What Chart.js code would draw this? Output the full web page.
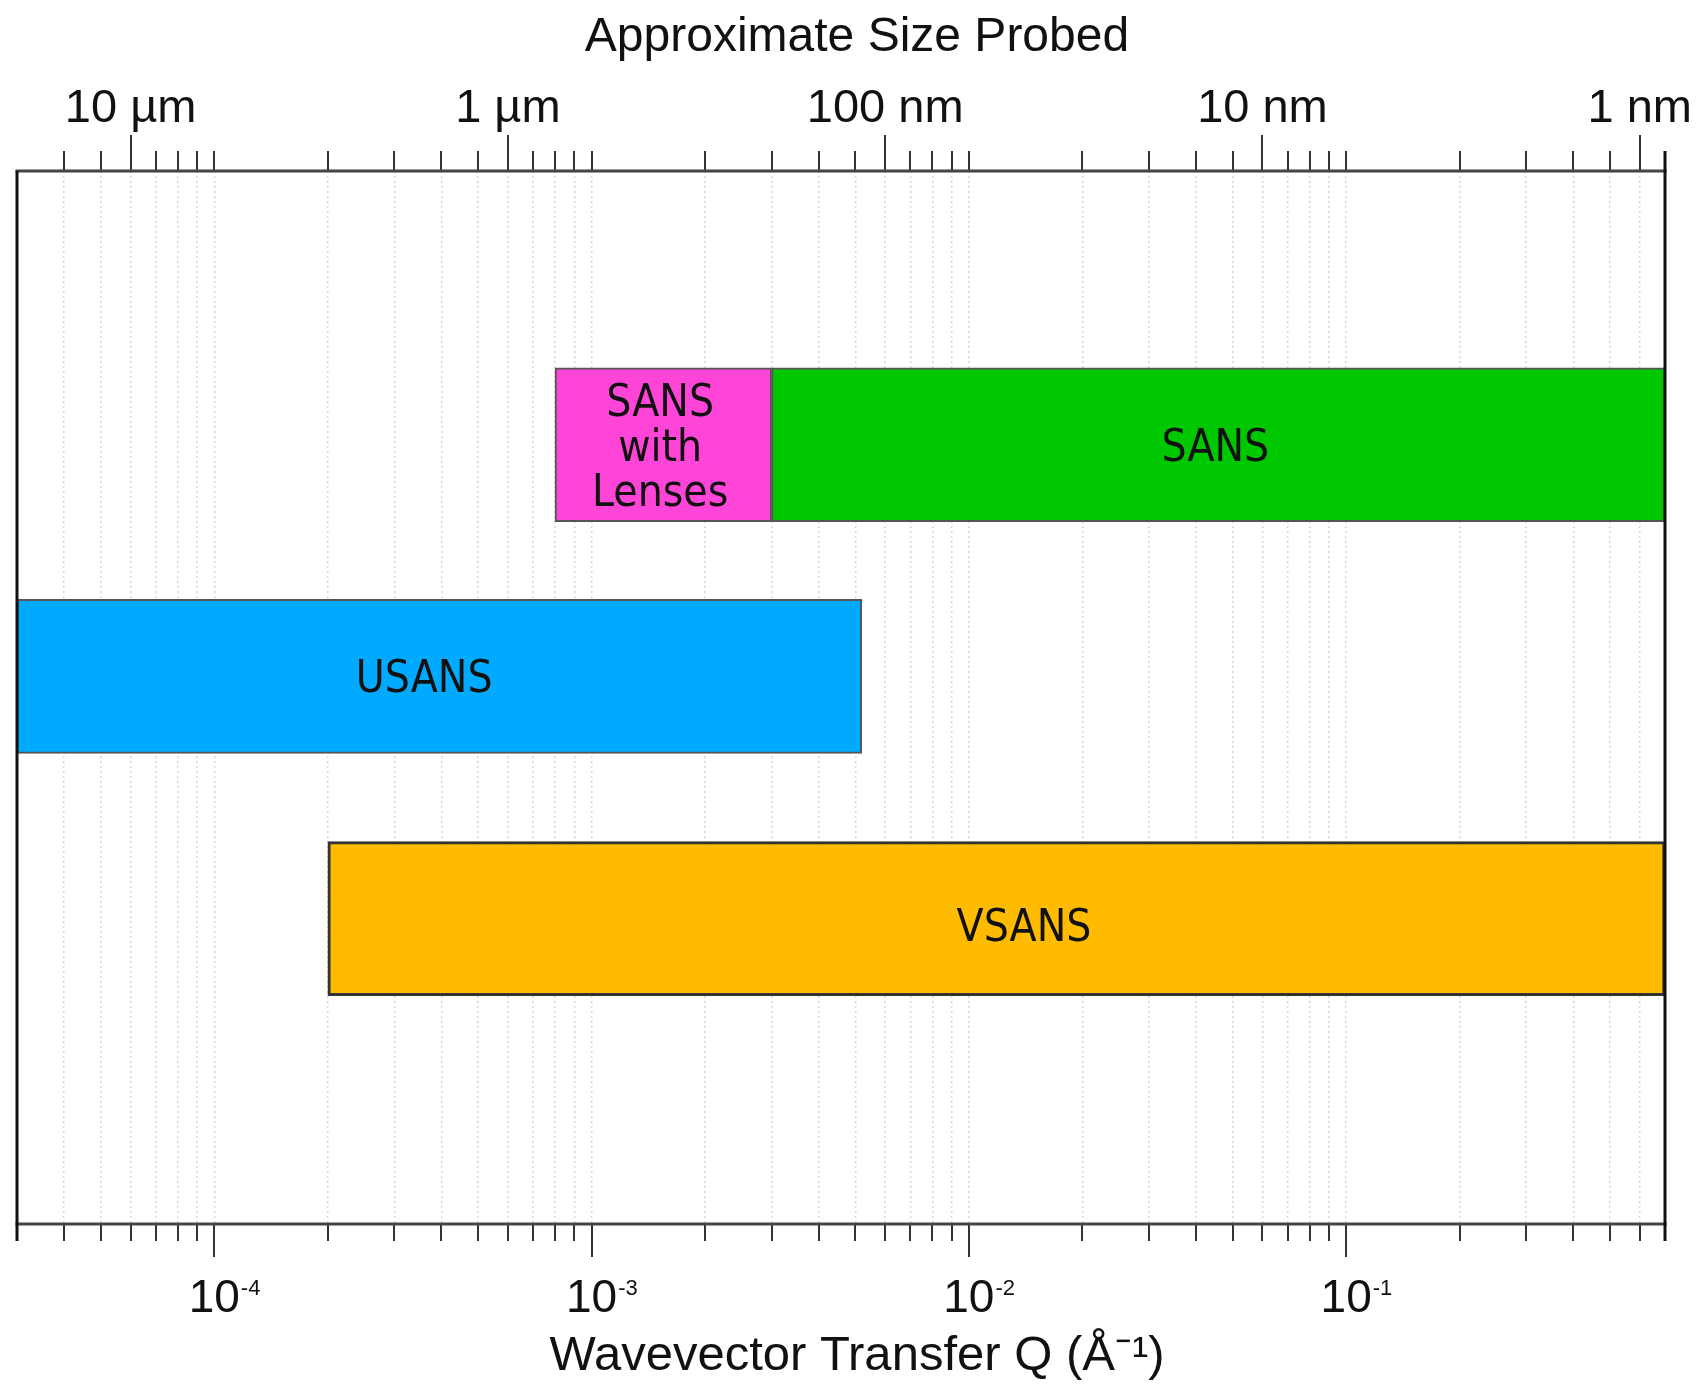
<!DOCTYPE html>
<html>
<head>
<meta charset="utf-8">
<script src="https://cdn.jsdelivr.net/npm/chart.js@4.4.1/dist/chart.umd.min.js"></script>
<style>
  html, body { margin: 0; padding: 0; background: #ffffff; }
  #wrap { width: 1706px; height: 1386px; }
</style>
</head>
<body>
<div id="wrap"><canvas id="chart" width="1706" height="1386"></canvas></div>
<script>
// Q coverage of each instrument, in inverse Ångström
const instruments = ['SANS with Lenses', 'SANS', 'USANS', 'VSANS'];
const qLow  = [8e-4, 3e-3, 3e-5, 2e-4];
const qHigh = [3e-3, 0.7, 5.2e-3, 0.7];
const rowLevel = [26, 26, 48, 71];
const barColors = ['#ff44d8', '#00c800', '#00aaff', '#ffbb00'];
const labelLines = [['SANS', 'with', 'Lenses'], ['SANS'], ['USANS'], ['VSANS']];
const labelQ = [1.52e-3, 0.045, 3.6e-4, 0.014];
const labelLevel = [26, 26, 48, 71.6];

// axis extent and labelled ticks
const qRange = [3e-5, 0.7];
const qDecades = [1e-4, 1e-3, 1e-2, 1e-1];
const qDecadeExp = ['-4', '-3', '-2', '-1'];
const sizeQ = [6e-5, 6e-4, 6e-3, 6e-2, 6e-1];
const sizeLabels = ['10 µm', '1 µm', '100 nm', '10 nm', '1 nm'];

// every 1..9 x 10^n inside the axis range
const tickQ = [];
for (let e = -5; e <= 0; e++) {
  for (let m = 1; m <= 9; m++) {
    const v = parseFloat((m * Math.pow(10, e)).toPrecision(6));
    if (v > qRange[0] * 1.001 && v < qRange[1] * 0.999) tickQ.push(v);
  }
}
const near = (a, b) => Math.abs(Math.log10(a) - Math.log10(b)) < 1e-6;
const labelFor = (vals, labels) => (v) => {
  const i = vals.findIndex(d => near(d, v));
  return i >= 0 ? labels[i] : '';
};
const useTicks = (scale) => { scale.ticks = tickQ.map(v => ({ value: v })); };
const fixHeight = (h) => (s) => { s.height = h; s.paddingLeft = 0; s.paddingRight = 0; };

const TEXT = '#111111';
const AXIS_FONT = "'Liberation Sans', Arial, Helvetica, sans-serif";
const BAR_FONT = "'DejaVu Sans Condensed', 'Liberation Sans Narrow', 'Liberation Sans', sans-serif";

// bar captions, decade labels, tick marks and the plot frame
const framePlugin = {
  id: 'frame',
  afterDatasetsDraw(chart) {
    const { ctx, chartArea: a, scales } = chart;
    const xs = scales.x, ys = scales.y;
    ctx.save();

    // captions inside the bars
    ctx.fillStyle = TEXT;
    ctx.font = '44px ' + BAR_FONT;
    ctx.textAlign = 'center';
    ctx.textBaseline = 'alphabetic';
    const lineGap = 45, capHalf = 16;
    labelLines.forEach((lines, i) => {
      const cx = xs.getPixelForValue(labelQ[i]);
      const cy = ys.getPixelForValue(labelLevel[i]);
      const y0 = cy - (lines.length - 1) * lineGap / 2;
      lines.forEach((t, k) => ctx.fillText(t, cx, y0 + k * lineGap + capHalf));
    });

    // decade labels 10^n under the bottom axis
    const baseFont = '46px ' + AXIS_FONT, supFont = '22px ' + AXIS_FONT;
    const baseY = 1312;
    ctx.textAlign = 'left';
    qDecades.forEach((q, i) => {
      const px = xs.getPixelForValue(q);
      ctx.font = baseFont;
      const wb = ctx.measureText('10').width;
      const x0 = px - wb / 2;
      ctx.fillText('10', x0, baseY);
      ctx.font = supFont;
      ctx.fillText(qDecadeExp[i], x0 + wb + 1, baseY - 17);
    });

    // tick marks: long at decades (bottom) and at size labels (top)
    ctx.strokeStyle = '#333333';
    ctx.lineWidth = 2;
    ctx.beginPath();
    tickQ.forEach(v => {
      const px = Math.round(xs.getPixelForValue(v));
      const bLen = qDecades.some(d => near(d, v)) ? 33 : 17;
      const tLen = sizeQ.some(d => near(d, v)) ? 36 : 20;
      ctx.moveTo(px, a.bottom);
      ctx.lineTo(px, a.bottom + bLen);
      ctx.moveTo(px, a.top);
      ctx.lineTo(px, a.top - tLen);
    });
    ctx.stroke();

    ctx.strokeStyle = '#444444';
    ctx.lineWidth = 3;
    ctx.beginPath();
    ctx.moveTo(a.left - 1.5, a.top);
    ctx.lineTo(a.right + 1.5, a.top);
    ctx.moveTo(a.left - 1.5, a.bottom);
    ctx.lineTo(a.right + 1.5, a.bottom);
    ctx.stroke();

    ctx.strokeStyle = '#111111';
    ctx.lineWidth = 3;
    ctx.beginPath();
    ctx.moveTo(a.left, a.top);
    ctx.lineTo(a.left, a.bottom + 17);
    ctx.moveTo(a.right, a.top - 20);
    ctx.lineTo(a.right, a.bottom + 17);
    ctx.stroke();

    ctx.restore();
  }
};

new Chart(document.getElementById('chart'), {
  type: 'bar',
  data: {
    datasets: [{
      data: instruments.map((name, i) => ({ x: [qLow[i], qHigh[i]], y: rowLevel[i] })),
      xAxisID: 'x',
      yAxisID: 'y',
      backgroundColor: barColors,
      borderColor: ['#555555', '#555555', '#555555', '#333333'],
      borderWidth: [2, 2, 2, 3],
      borderSkipped: false,
      barThickness: 154
    }]
  },
  options: {
    indexAxis: 'y',
    responsive: false,
    animation: false,
    events: [],
    layout: { padding: { left: 8, right: 0, top: 0, bottom: 0 } },
    plugins: {
      legend: { display: false },
      tooltip: { enabled: false },
      title: {
        display: true,
        text: 'Approximate Size Probed',
        color: TEXT,
        font: { family: AXIS_FONT, size: 48, weight: 'normal', lineHeight: 1.2 },
        padding: { top: 9, bottom: 0 }
      },
      subtitle: {
        display: true,
        position: 'bottom',
        text: 'Wavevector Transfer Q (Å⁻¹)',
        color: TEXT,
        font: { family: AXIS_FONT, size: 49, weight: 'normal', lineHeight: 1.2 },
        padding: { top: 0, bottom: 0 }
      }
    },
    scales: {
      x: {
        type: 'logarithmic',
        position: 'bottom',
        min: qRange[0],
        max: qRange[1],
        afterBuildTicks: useTicks,
        afterFit: fixHeight(103.2),
        ticks: { display: false, autoSkip: false },
        grid: { drawTicks: false, color: '#d4d4f2', lineWidth: 1.5 },
        border: { display: false, dash: [2, 3] }
      },
      x2: {
        type: 'logarithmic',
        position: 'top',
        min: qRange[0],
        max: qRange[1],
        afterBuildTicks: useTicks,
        afterFit: fixHeight(104.4),
        ticks: {
          autoSkip: false,
          maxRotation: 0,
          minRotation: 0,
          padding: 34,
          color: TEXT,
          font: { family: AXIS_FONT, size: 47, lineHeight: 1.2 },
          callback: labelFor(sizeQ, sizeLabels)
        },
        grid: { display: false, drawTicks: false },
        border: { display: false }
      },
      y: {
        type: 'linear',
        position: 'left',
        min: 0,
        max: 100,
        reverse: true,
        offset: false,
        afterFit: (s) => { s.width = 9; },
        ticks: { display: false },
        grid: { display: false },
        border: { display: false }
      },
      yR: {
        type: 'linear',
        position: 'right',
        min: 0,
        max: 1,
        afterFit: (s) => { s.width = 41; },
        ticks: { display: false },
        grid: { display: false },
        border: { display: false }
      }
    }
  },
  plugins: [framePlugin]
});
</script>
</body>
</html>
